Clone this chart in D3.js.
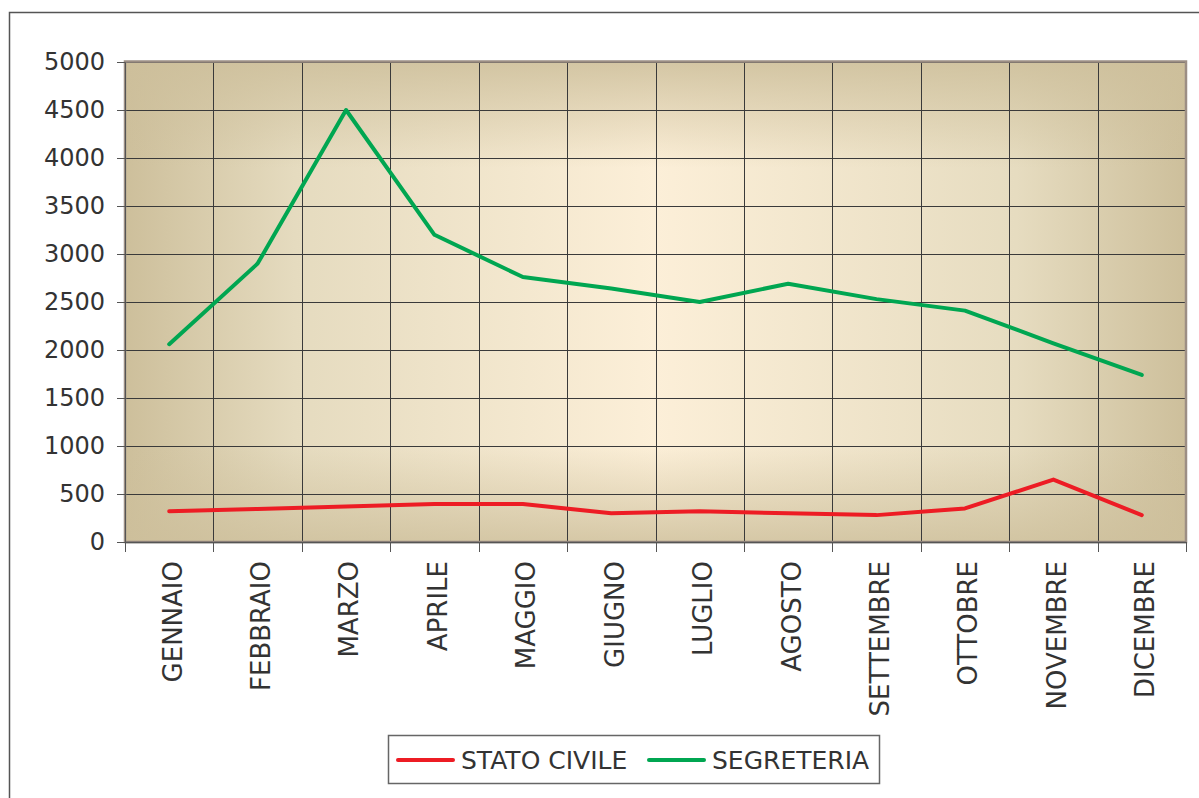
<!DOCTYPE html>
<html>
<head>
<meta charset="utf-8">
<script src="https://cdn.jsdelivr.net/npm/d3@7"></script>
<style>
  body { margin: 0; background: #fff; }
  svg { display: block; }
</style>
</head>
<body>
<div id="chart"></div>
<script>
var width = 1199,
    height = 798;

var months = ["GENNAIO", "FEBBRAIO", "MARZO", "APRILE", "MAGGIO", "GIUGNO",
              "LUGLIO", "AGOSTO", "SETTEMBRE", "OTTOBRE", "NOVEMBRE", "DICEMBRE"];
var statoCivile = [320, 345, 370, 395, 395, 300, 320, 300, 280, 350, 650, 280];
var segreteria = [2060, 2900, 4500, 3200, 2760, 2640, 2500, 2690, 2530, 2410, 2070, 1740];
var yTicks = [0, 500, 1000, 1500, 2000, 2500, 3000, 3500, 4000, 4500, 5000];
var seriesNames = ["STATO CIVILE", "SEGRETERIA"];
var seriesColors = ["#ed1c24", "#00a651"];

var plot = {left: 125, right: 1186, top: 62, bottom: 542};
var labelFont = "'Comic Sans MS', 'DejaVu Sans', sans-serif";

var svg = d3.select("#chart")
    .append("svg")
    .attr("width", width)
    .attr("height", height);

// outer frame (right and bottom fall outside the picture)
svg.append("rect")
    .attr("x", 9.5).attr("y", 12.5)
    .attr("width", width).attr("height", height)
    .attr("fill", "none")
    .attr("stroke", "#555")
    .attr("stroke-width", 1.5);

var defs = svg.append("defs");
var hGrad = defs.append("linearGradient").attr("id", "hgrad")
    .attr("x1", 0).attr("x2", 1).attr("y1", 0).attr("y2", 0);
[[0, "#cdbf9b"], [0.16, "#e5dbbf"], [0.5, "#fcefd8"], [0.84, "#e6dcc0"], [1, "#cdbf9b"]]
    .forEach(function(s) {
        hGrad.append("stop").attr("offset", s[0]).attr("stop-color", s[1]);
    });
var vGrad = defs.append("linearGradient").attr("id", "vgrad")
    .attr("x1", 0).attr("x2", 0).attr("y1", 0).attr("y2", 1);
[[0, 0.85], [0.22, 0], [0.8, 0], [1, 0.8]].forEach(function(s) {
    vGrad.append("stop").attr("offset", s[0])
        .attr("stop-color", "#cdbf9b").attr("stop-opacity", s[1]);
});

var x = d3.scaleBand()
    .domain(months)
    .range([plot.left, plot.right])
    .padding(0);

var y = d3.scaleLinear()
    .domain([0, 5000])
    .range([plot.bottom, plot.top]);

// plot background
svg.append("rect")
    .attr("x", plot.left).attr("y", plot.top)
    .attr("width", plot.right - plot.left).attr("height", plot.bottom - plot.top)
    .attr("fill", "url(#hgrad)");
svg.append("rect")
    .attr("x", plot.left).attr("y", plot.top)
    .attr("width", plot.right - plot.left).attr("height", plot.bottom - plot.top)
    .attr("fill", "url(#vgrad)");

// grid lines
svg.append("g")
    .selectAll("line")
    .data(yTicks)
    .enter().append("line")
    .attr("x1", plot.left).attr("x2", plot.right)
    .attr("y1", function(d) { return Math.round(y(d)) + 0.5; })
    .attr("y2", function(d) { return Math.round(y(d)) + 0.5; })
    .attr("stroke", "#3a3a3a")
    .attr("stroke-width", 1);

svg.append("g")
    .selectAll("line")
    .data(months.slice(1))
    .enter().append("line")
    .attr("x1", function(d) { return Math.round(x(d)) + 0.5; })
    .attr("x2", function(d) { return Math.round(x(d)) + 0.5; })
    .attr("y1", plot.top).attr("y2", plot.bottom)
    .attr("stroke", "#3a3a3a")
    .attr("stroke-width", 1);

// plot frame
svg.append("rect")
    .attr("x", plot.left).attr("y", plot.top - 0.5)
    .attr("width", plot.right - plot.left).attr("height", plot.bottom - plot.top + 0.5)
    .attr("fill", "none")
    .attr("stroke", "#9c8e84")
    .attr("stroke-width", 2.5);
svg.append("line")
    .attr("x1", plot.left).attr("x2", plot.right)
    .attr("y1", plot.bottom + 0.5).attr("y2", plot.bottom + 0.5)
    .attr("stroke", "#555").attr("stroke-width", 1.5);

// y axis
var yAxis = d3.axisLeft(y)
    .tickValues(yTicks)
    .tickSize(8)
    .tickPadding(12)
    .tickFormat(d3.format("d"));
var yG = svg.append("g")
    .attr("transform", "translate(" + plot.left + ",0)")
    .call(yAxis);
yG.select(".domain").attr("stroke", "#555");
yG.selectAll(".tick line").attr("stroke", "#555");
yG.selectAll(".tick text")
    .attr("fill", "#333")
    .style("font-family", "'DejaVu Sans', sans-serif")
    .style("font-size", "24px");

// x axis ticks at category boundaries
var bounds = months.map(function(m) { return x(m); }).concat([plot.right]);
svg.append("g")
    .selectAll("line")
    .data(bounds)
    .enter().append("line")
    .attr("x1", function(d) { return Math.round(d) + 0.5; })
    .attr("x2", function(d) { return Math.round(d) + 0.5; })
    .attr("y1", plot.bottom).attr("y2", plot.bottom + 10)
    .attr("stroke", "#555");

svg.append("g")
    .selectAll("text")
    .data(months)
    .enter().append("text")
    .attr("transform", function(d) {
        return "translate(" + (x(d) + x.bandwidth() / 2 + 3) + "," + 561 + ") rotate(-90)";
    })
    .attr("text-anchor", "end")
    .attr("dy", "0.36em")
    .attr("fill", "#333")
    .style("font-family", labelFont)
    .style("font-size", "26px")
    .text(function(d) { return d; });

// lines
var line = d3.line()
    .x(function(d, i) { return x(months[i]) + x.bandwidth() / 2; })
    .y(function(d) { return y(d); });

[statoCivile, segreteria].forEach(function(series, i) {
    svg.append("path")
        .datum(series)
        .attr("d", line)
        .attr("fill", "none")
        .attr("stroke", seriesColors[i])
        .attr("stroke-width", 4)
        .attr("stroke-linejoin", "round")
        .attr("stroke-linecap", "round");
});

// legend
var legend = svg.append("g");
legend.append("rect")
    .attr("x", 388.5).attr("y", 735.5)
    .attr("width", 491).attr("height", 48)
    .attr("fill", "#fff")
    .attr("stroke", "#666")
    .attr("stroke-width", 1.5);

var legendX = [398, 649];
seriesNames.forEach(function(name, i) {
    legend.append("line")
        .attr("x1", legendX[i]).attr("x2", legendX[i] + 55)
        .attr("y1", 760).attr("y2", 760)
        .attr("stroke", seriesColors[i])
        .attr("stroke-width", 4)
        .attr("stroke-linecap", "round");
    legend.append("text")
        .attr("x", legendX[i] + 63)
        .attr("y", 760)
        .attr("dy", "0.36em")
        .attr("fill", "#333")
        .style("font-family", labelFont)
        .style("font-size", "25px")
        .text(name);
});
</script>
</body>
</html>
